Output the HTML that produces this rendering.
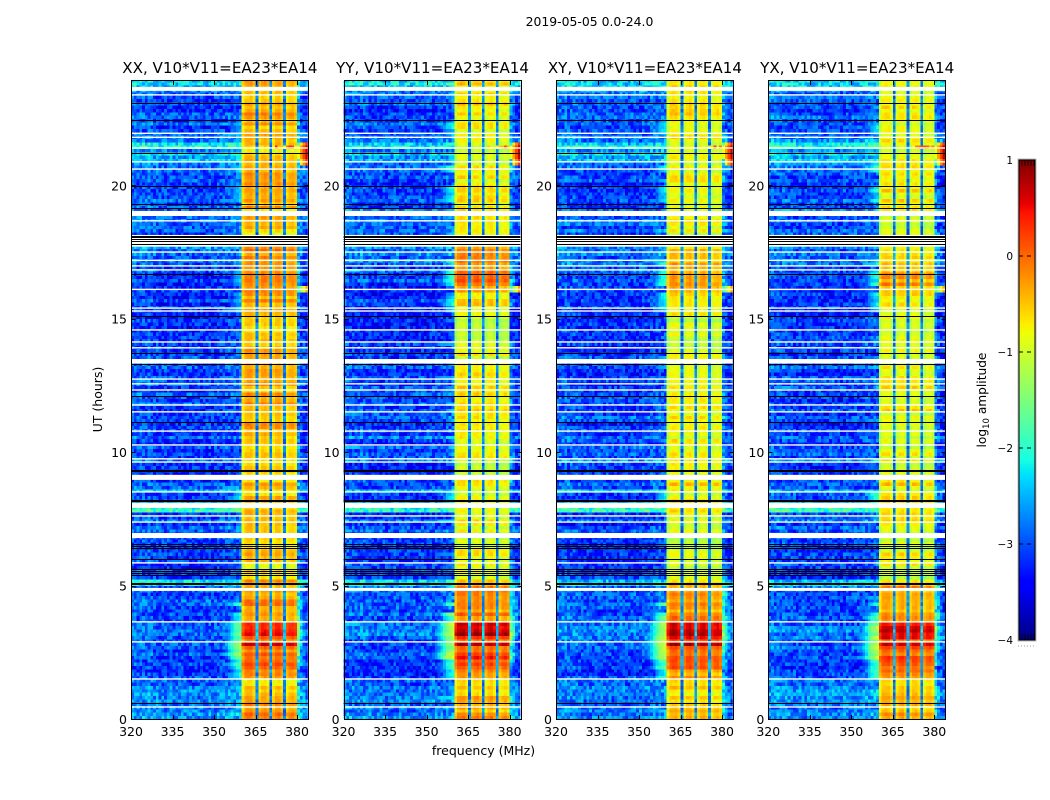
<!DOCTYPE html>
<html><head><meta charset="utf-8"><title>2019-05-05 0.0-24.0</title>
<style>
html,body{margin:0;padding:0;background:#fff}
svg{display:block}
text{font-family:"DejaVu Sans","Liberation Sans",sans-serif;fill:#000}
</style></head>
<body>
<svg id="figure" xmlns="http://www.w3.org/2000/svg" width="1050" height="800" viewBox="0 0 1050 800">
<rect x="0" y="0" width="1050" height="800" fill="#fff"/>
<text x="589.5" y="26" font-size="12.4" text-anchor="middle">2019-05-05 0.0-24.0</text>
<text x="483.5" y="755" font-size="12.5" text-anchor="middle">frequency (MHz)</text>
<text x="102" y="399.5" font-size="12.5" text-anchor="middle" transform="rotate(-90 102 399.5)">UT (hours)</text>
<text x="986" y="400" font-size="12.2" text-anchor="middle" transform="rotate(-90 986 400)">log<tspan font-size="8.5" dy="3">10</tspan><tspan dy="-3"> amplitude</tspan></text>
</svg>
<script>
const panelTitles = ["XX, V10*V11=EA23*EA14","YY, V10*V11=EA23*EA14","XY, V10*V11=EA23*EA14","YX, V10*V11=EA23*EA14"];
const freqTicks = [320,335,350,365,380];
const utTicks = [0,5,10,15,20];
const colorTicks = [1,0,-1,-2,-3,-4];

/* log10 amplitude inside the 360-380 MHz band, one value per 0.125 h row, from 0 UT upward */
const rowBand = [
-.2,-.15,-.4,-.5,-.25,-.35,-.35,-.5,
-.6,-.55,-.6,-.6,-.3,-.2,-.05,.05,
.1,.05,.1,-.1,-.1,0,.6,-.1,
.3,.6,.6,.45,.45,-.2,-.2,-.15,
-.3,-.2,-.15,-.15,-.2,-.2,-.25,-.2,
-.3,-.3,-.7,-.7,-.6,-.7,-.6,-.55,
-.4,-.35,-.4,-.6,-.65,-.7,-.7,-.7,
-.7,-.65,-.55,-.5,-.6,-.5,-.55,-.55,
-.5,-.45,-.4,-.6,-.7,-.55,-.25,-.6,
-.6,-.55,-.5,-.65,-.55,-.5,-.5,-.35,
-.5,-.6,-.4,-.35,-.5,-.35,-.4,-.4,
-.3,-.45,-.35,-.5,-.3,-.45,-.35,-.4,
-.5,-.3,-.45,-.35,-.4,-.35,-.45,-.35,
-.3,-.45,-.5,-.5,-.55,-.5,-.4,-.55,
-.6,-.5,-.55,-.6,-.6,-.55,-.55,-.6,
-.5,-.45,-.5,-.45,-.35,-.35,-.4,-.3,
-.35,-.25,-.1,-.15,-.05,-.1,-.25,-.2,
-.15,-.3,-.15,-.3,-.25,-.4,-.4,-.4,
-.4,-.75,-.65,-.6,-.55,-.5,-.5,-.5,
-.5,-.3,-.5,-.3,-.4,-.35,-.3,-.45,
-.4,-.5,-.45,-.35,-.5,-.45,-.55,-.5,
-.6,-.5,-.7,-.7,-.5,-.35,-.4,-.45,
-.5,-.55,-.5,-.45,-.4,-.3,-.35,-.4,
-.35,-.45,-.55,-.45,-.4,-.35,-.3,-.3];

/* log10 amplitude of the out-of-band background, same rows */
const rowBg = [
-2.6,-2.6,-2.7,-2.8,-2.7,-2.6,-2.7,-2.6,
-2.6,-2.7,-2.8,-2.7,-2.9,-3,-3,-3.05,
-3,-3,-2.95,-2.9,-2.9,-2.85,-2.9,-2.8,
-2.75,-2.7,-2.6,-2.7,-2.8,-2.85,-2.8,-2.85,
-2.9,-2.8,-2.85,-2.8,-2.85,-2.9,-2.8,-2.7,
-2.3,-2.4,-3,-3,-2.95,-3,-3,-3,
-3,-3,-3,-3,-3,-3,-2.95,-2.95,
-2.9,-2.8,-3.1,-2.7,-3,-3.05,-2,-2,
-2,-2.8,-3,-2.9,-2.4,-2.9,-2.8,-3,
-3,-3,-3.1,-3.1,-3,-2.6,-3,-2.8,
-3,-2.8,-3.1,-2.9,-2.7,-3,-2.8,-3,
-3.1,-2.9,-2.8,-3,-2.9,-3.1,-2.8,-3,
-2.9,-2.8,-3,-2.9,-3,-2.8,-2.9,-3.1,
-3,-2.8,-2.9,-3,-2.9,-3.1,-3,-3.1,
-3,-3.1,-3,-3.1,-3,-3.1,-3.1,-3,
-3.1,-3.15,-3.1,-3,-3.1,-3,-3.1,-3.1,
-3.1,-3,-3.1,-2.9,-3,-3,-2.8,-2.9,
-2.7,-2.6,-2.8,-2.6,-2.8,-2.5,-2.7,-2.7,
-2.7,-2.9,-2.8,-2.9,-2.8,-2.7,-2.8,-2.8,
-2.7,-2.9,-3,-2.8,-2.9,-2.9,-3,-3,
-3.1,-2.9,-3,-2.9,-2.8,-2.8,-2.7,-2.4,
-2.6,-2.2,-2.6,-2.1,-2.3,-2.6,-2.7,-2.8,
-2.9,-3,-2.8,-2.9,-2.8,-2.9,-3,-3,
-2.8,-2.9,-2.8,-2.8,-2.5,-2.4,-2.3,-2.3];

/* per-polarisation band offset, one value per hour */
const panelHourOffset = [
[0,0,0,0,0,0,0,.05,.05,.05,.05,.05,.05,.05,0,.05,.1,.1,.1,0,.05,.05,.1,.1],
[0,.1,.2,.1,0,-.25,-.3,-.2,-.2,-.35,-.35,-.35,-.3,-.3,-.4,-.25,.1,.1,-.2,-.25,-.3,-.25,-.25,-.25],
[-.1,-.05,.05,.1,-.05,-.25,-.35,-.2,-.2,-.35,-.4,-.35,-.3,-.35,-.4,-.35,-.25,-.2,-.2,-.35,-.25,-.3,-.35,-.3],
[-.1,-.05,.1,.1,-.05,-.25,-.35,-.2,-.2,-.35,-.4,-.35,-.35,-.4,-.45,-.35,-.15,-.25,-.3,-.35,-.3,-.35,-.35,-.35]];

/* channel offsets: 1 MHz channels 320-383 */
const colBg = [.15,.15,.1,.15,.1,.1,.15,.1,.05,.05,0,.05,0,0,.05,0,0,0,.05,0,-.05,0,0,.05,0,0,-.05,0,.05,0,0,.05,.05,.05,.1,.1,.1,.15,.15,.2,0,0,0,0,0,0,0,0,0,0,0,0,0,0,0,0,0,0,0,0,0,-.1,-.1,-.1];
const colBand = {40:-.3,41:0,42:.05,43:.05,44:-.15,46:-.2,47:0,48:.05,49:-.12,51:-.22,52:0,53:.03,54:-.15,56:-.28,57:-.1,58:-.05,59:-.2};
const notchChannels = [45,50,55];
const panelSkirtOffset = [-.1,.15,.15,.1];
const skirtFalloff = [-2,-2,-1.8,-1.6,-1.3,-1,-.6,-.3,-.15,0];
const skirtBands = [[3.6,4.0,-1.8],[3.0,3.6,-1.4],[2.3,3.0,-1.3],[1.9,2.3,-1.9],[1.55,1.9,-2.1],[4.2,4.4,-1.9],[16.2,16.9,-2.2],[15.3,16.0,-2.4],[17,17.3,-2.2],[20.5,20.8,-2.2],[7.9,8.6,-2.2],[19.4,20,-2.3],[21.9,22.4,-2.4]];
const rightLiftByHour = [.5,.5,.9,1.1,.8,.4,.3,.3,.4,.3,.3,.3,.3,.3,.3,.3,.5,.3,.3,.3,.4,.5,.3,.3];
const rightProfile = [1,.6,.3,.1];
/* strong interference patches: low UT, high UT, first channel, level */
const rfiPatches = [[20.95,21.45,60,.7],[20.7,20.95,61,.3],[21.45,21.6,61,.3],[21.4,21.52,52,-.35],[16.05,16.2,60,-.3]];
/* fixed texture table, hand-typed, applied as small speckle */
const speckle = [.2,-.3,.1,.35,-.15,-.4,.05,.3,-.25,.15,-.05,.4,-.35,.1,.25,-.2,-.1,.3,-.4,.15,.05,-.3,.35,-.15,.2,-.25,.1,.4,-.05,-.35,.25,0,-.2,.3,-.1,.15,-.4,.2,.05,-.3,.35,-.2,.1,-.15,.25,-.35,.3,0,-.25,.15,.4,-.1,-.3];
const backgroundFloorShift = -.15;

/* flagged data */
const blankBands = [[23.54,23.69],[18.85,19.04],[17.70,18.14],[13.32,13.49],[8.96,9.15],[7.91,8.1],[6.78,6.97],[4.8,4.91]];
const blankLines = [23.39,21.95,21.8,21.4,20.88,20.61,18.67,17.5,17.19,16.98,16.83,16.1,15.4,15.29,14.58,14.13,13.91,12.74,12.56,12.33,11.77,11.51,10.79,10.27,9.75,9.63,8.51,7.61,7.38,5.85,3.64,2.89,1.5,.45];
const blackLines = [23.09,22.45,21.23,19.98,19.3,19.16,18.11,18,17.9,17.8,16.68,15.09,13.72,13.3,12.11,11.13,9.33,8.21,6.56,6.48,6.41,6,5.62,5.55,5.47,5.4,5.1,.6];
const thickBlackLines = [18.11,9.33,8.21,5.1];

const NS = "http://www.w3.org/2000/svg";
const svg = document.getElementById("figure");
const panelLefts = [131,343.6,556,768.3];
const panelWidth = 176.8, plotTop = 81, plotBottom = 719;
const freqMin = 320, freqMax = 383.9, utMax = 23.91;
const rowHours = 0.125;

function mk(tag, attrs, parent){
  const e = document.createElementNS(NS, tag);
  for (const k in attrs) e.setAttribute(k, attrs[k]);
  parent.appendChild(e);
  return e;
}
function xScale(p, f){ return panelLefts[p] + (f - freqMin) / (freqMax - freqMin) * panelWidth; }
function yScale(u){ return plotBottom - u / utMax * (plotBottom - plotTop); }
function interp(t, pts){
  for (let i = 1; i < pts.length; i++) if (t <= pts[i][0]) {
    const a = pts[i-1], b = pts[i];
    return a[1] + (b[1]-a[1]) * (t-a[0]) / (b[0]-a[0]);
  }
  return pts[pts.length-1][1];
}
const jetR = [[0,0],[.35,0],[.66,1],[.89,1],[1,.5]];
const jetG = [[0,0],[.125,0],[.375,1],[.64,1],[.91,0],[1,0]];
const jetB = [[0,.5],[.11,1],[.34,1],[.65,0],[1,0]];
function jet(v){
  const t = Math.max(0, Math.min(1, (v + 4) / 5));
  return "rgb(" + Math.round(interp(t,jetR)*255) + "," + Math.round(interp(t,jetG)*255) + "," + Math.round(interp(t,jetB)*255) + ")";
}
function cellValue(p, r, c){
  const u = (r + .5) * rowHours, h = Math.min(23, Math.floor(u));
  const s = speckle[(r * r * 3 + c * c * 5 + r * c + p * 7 + r * 11) % speckle.length];
  const stripe = speckle[(r * 11 + p * 17) % speckle.length];
  for (const q of rfiPatches) if (u >= q[0] && u < q[1] && c >= q[2]) {
    return q[3] + (c >= 60 ? (c - 63) * .5 : s * 1.8);
  }
  if (notchChannels.includes(c)) return rowBand[r] * .4 - 2.6 + s * .6;
  if (c in colBand) return rowBand[r] + panelHourOffset[p][h] + colBand[c] + s * .18 + stripe * .5;
  let v = rowBg[r] + colBg[c] + s + stripe * .35;
  if (rowBg[r] < -2.45) v += backgroundFloorShift;
  if (c >= 60) v += rightLiftByHour[h] * rightProfile[c-60] * 1.2;
  if (c >= 30 && c < 40) {
    for (const b of skirtBands) if (u >= b[0] && u < b[1]) {
      v = Math.max(v, b[2] + panelSkirtOffset[p] + skirtFalloff[c-30] + s * .3 + stripe * .6);
    }
  }
  return v;
}

panelTitles.forEach(function(title, p){
  const panel = mk("g", {}, svg);
  
  
  const clipId = "clip" + p;
  const cp = mk("clipPath", {id: clipId}, panel);
  mk("rect", {x: panelLefts[p], y: plotTop, width: panelWidth, height: plotBottom - plotTop}, cp);

  const heat = mk("g", {"clip-path": "url(#" + clipId + ")", "shape-rendering": "crispEdges"}, panel);
  
  
  for (let r = 0; r < rowBand.length; r++) {
    const yTop = yScale((r + 1) * rowHours), yBot = yScale(r * rowHours);
    for (let c = 0; c < colBg.length; c++) {
      const x0 = xScale(p, freqMin + c), x1 = xScale(p, freqMin + c + 1);
      const cell = mk("rect", {x: x0.toFixed(2), y: yTop.toFixed(2), width: (x1 - x0 + .4).toFixed(2), height: (yBot - yTop + .4).toFixed(2), fill: jet(cellValue(p, r, c))}, heat);
      
      
    }
  }
  const flags = mk("g", {"clip-path": "url(#" + clipId + ")"}, panel);
  
  
  blankBands.forEach(function(b){
    const e = mk("rect", {x: panelLefts[p], y: yScale(b[1]), width: panelWidth, height: yScale(b[0]) - yScale(b[1]), fill: "#fff"}, flags);
    
    
  });
  blankLines.forEach(function(u){
    const e = mk("rect", {x: panelLefts[p], y: yScale(u) - .7, width: panelWidth, height: 1.4, fill: "#fff"}, flags);
    
    
  });
  blackLines.forEach(function(u){
    const thick = thickBlackLines.includes(u) ? 2 : 1;
    const e = mk("rect", {x: panelLefts[p], y: Math.round(yScale(u)), width: panelWidth, height: thick, fill: "#000", "shape-rendering": "crispEdges"}, flags);
    
    
  });

  const frameLeft = Math.round(panelLefts[p]) + .5;
  const frame = mk("rect", {x: frameLeft, y: plotTop - .5, width: 177, height: plotBottom - plotTop + 1, fill: "none", stroke: "#000", "stroke-width": 1}, panel);
  
  

  freqTicks.forEach(function(f){
    const x = Math.round(xScale(p, f)) + .5;
    const t1 = mk("line", {x1: x, x2: x, y1: plotBottom, y2: plotBottom - 4, stroke: "#000", "stroke-width": 1}, panel);
    
    
    const t2 = mk("line", {x1: x, x2: x, y1: plotTop, y2: plotTop + 4, stroke: "#000", "stroke-width": 1}, panel);
    
    
    const l = mk("text", {x: xScale(p, f), y: 736, "font-size": 12.5, "text-anchor": "middle"}, panel);
    
    
    l.textContent = f;
  });
  utTicks.forEach(function(u){
    const y = Math.round(yScale(u)) + .5;
    const t1 = mk("line", {x1: frameLeft, x2: frameLeft + 4, y1: y, y2: y, stroke: "#000", "stroke-width": 1}, panel);
    
    
    const t2 = mk("line", {x1: frameLeft + 177, x2: frameLeft + 173, y1: y, y2: y, stroke: "#000", "stroke-width": 1}, panel);
    
    
    const l = mk("text", {x: panelLefts[p] - 4, y: yScale(u) + 5, "font-size": 12.5, "text-anchor": "end"}, panel);
    
    
    l.textContent = u;
  });
  const ttl = mk("text", {x: panelLefts[p] + panelWidth / 2 + .5, y: 73, "font-size": 15.1, "text-anchor": "middle"}, panel);
  
  
  ttl.textContent = title;
});

/* colorbar */
const cbX = 1019, cbW = 16, cbTop = 160, cbBottom = 640;
const cbMin = -4, cbMax = 1, cbSteps = 240;
function cbScale(v){ return cbBottom - (v - cbMin) / (cbMax - cbMin) * (cbBottom - cbTop); }
const cb = mk("g", {"shape-rendering": "crispEdges"}, svg);


for (let i = 0; i < cbSteps; i++) {
  const v0 = cbMin + (cbMax - cbMin) * i / cbSteps, v1 = cbMin + (cbMax - cbMin) * (i + 1) / cbSteps;
  const seg = mk("rect", {x: cbX, y: cbScale(v1), width: cbW, height: cbScale(v0) - cbScale(v1) + .5, fill: jet((v0 + v1) / 2)}, cb);
  
  
}
const cbHalo = mk("rect", {x: cbX - 1, y: cbTop - 1, width: cbW + 2, height: cbBottom - cbTop + 2, fill: "none", stroke: "#bbb", "stroke-width": 1}, svg);


const cbFrame = mk("rect", {x: cbX, y: cbTop, width: cbW, height: cbBottom - cbTop, fill: "none", stroke: "#000", "stroke-width": 1}, svg);


colorTicks.forEach(function(v){
  const y = cbScale(v);
  if (v !== 1 && v !== -4) {
    const t = mk("line", {x1: cbX, x2: cbX + cbW, y1: y, y2: y, stroke: "#000", "stroke-width": 1, "stroke-dasharray": "4 4"}, svg);
    
    
  }
  const l = mk("text", {x: 1013, y: y + 4, "font-size": 10.5, "text-anchor": "end"}, svg);
  
  
  l.textContent = v < 0 ? "\u2212" + Math.abs(v) : String(v);
});
[[cbTop, cbTop + 6], [cbBottom - 6, cbBottom]].forEach(function(span){
  for (let x = cbX + 3; x < cbX + cbW; x += 3) {
    const m = mk("line", {x1: x, x2: x, y1: span[0], y2: span[1], stroke: "#000", "stroke-width": .8}, svg);
    
    
  }
});
for (let x = cbX - 1; x < cbX + cbW + 1; x += 3) {
  const d = mk("rect", {x: x, y: 645.5, width: 1, height: 1, fill: "#999"}, svg);
  
  
}
</script>
</body></html>
